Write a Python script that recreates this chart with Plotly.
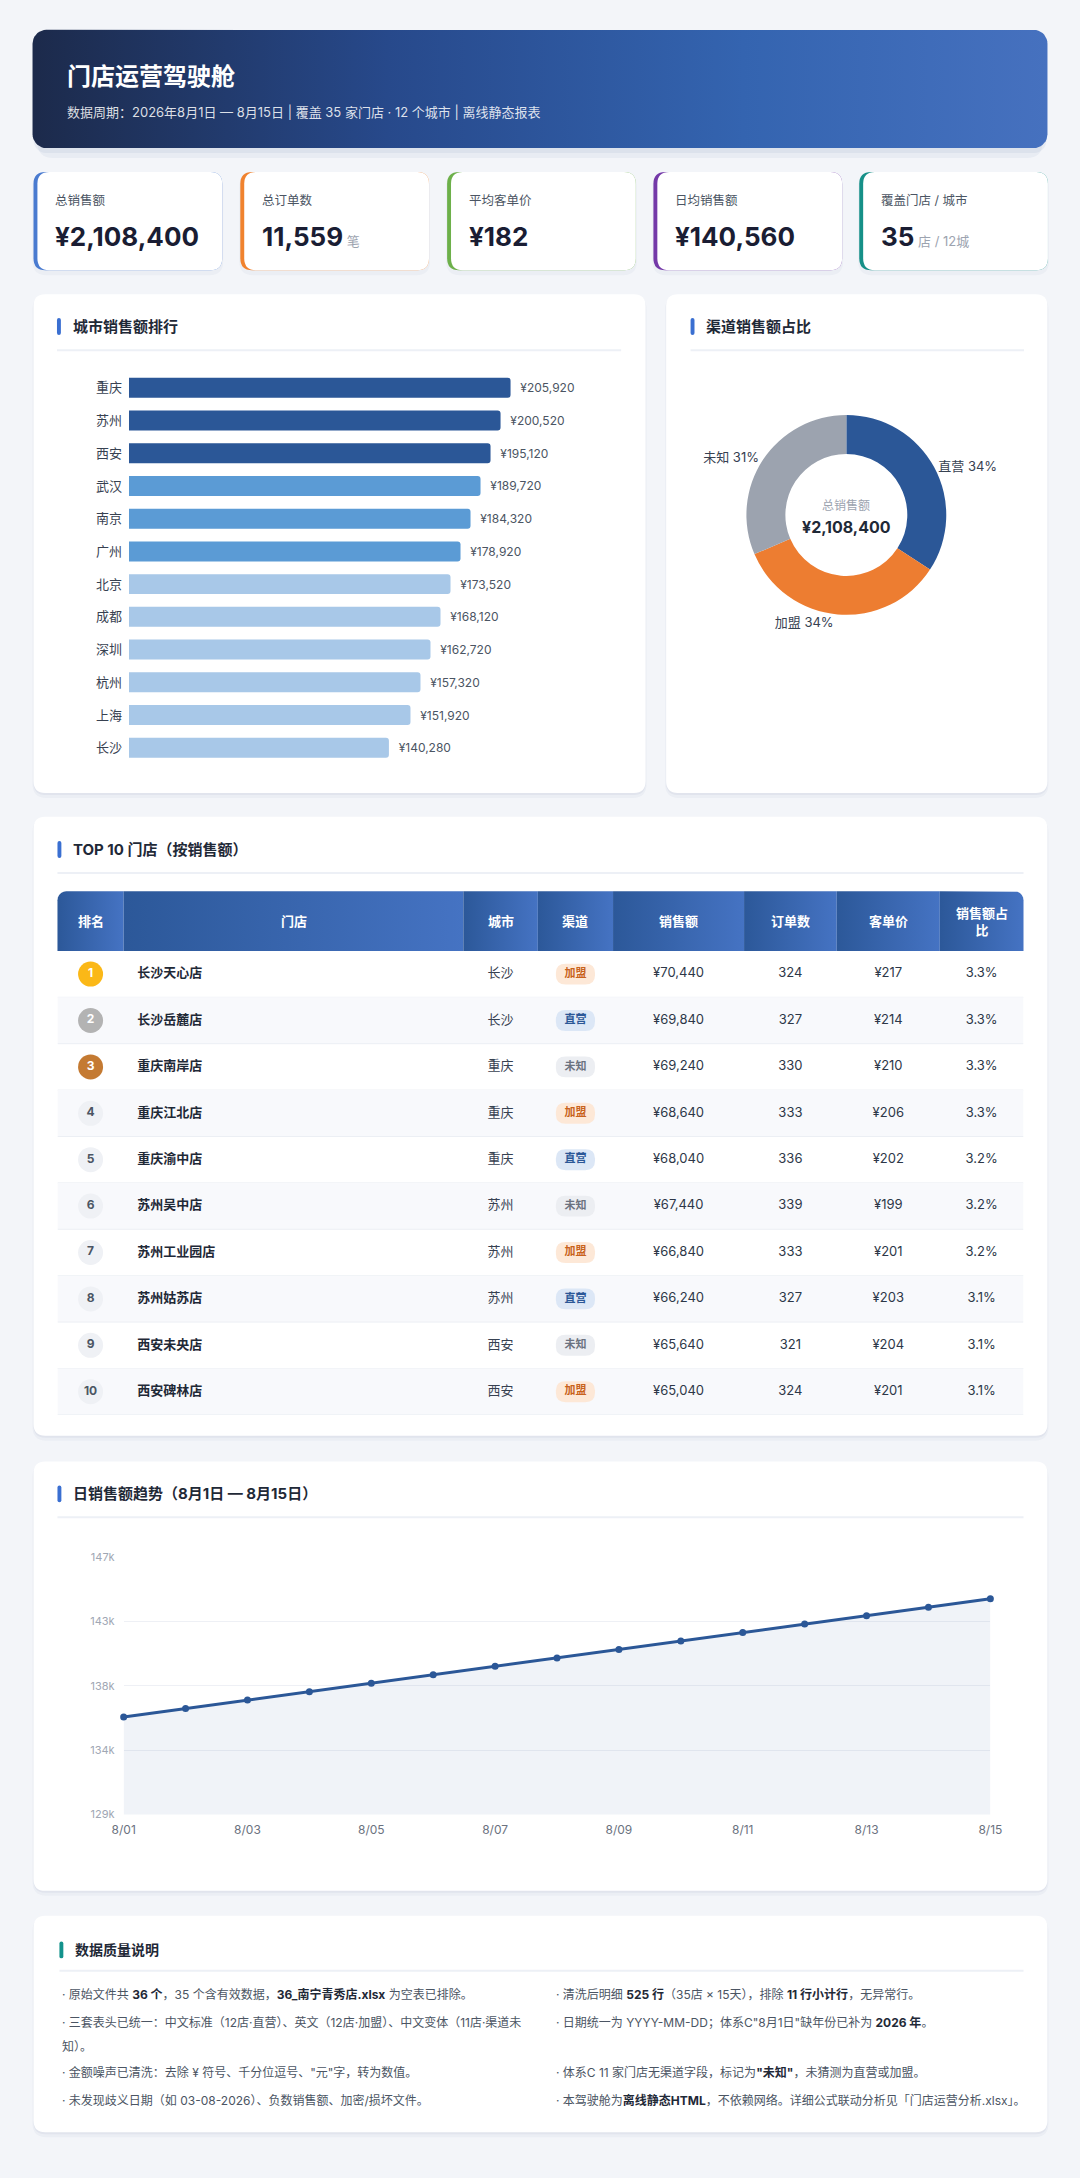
import numpy as np
import plotly.graph_objects as go

W, H = 1080, 2178
FONT = "Inter, 'Noto Sans CJK SC', sans-serif"

# ---------------- data ----------------
kpi_labels = ["总销售额", "总订单数", "平均客单价", "日均销售额", "覆盖门店 / 城市"]
kpi_values = ["¥2,108,400", "11,559", "¥182", "¥140,560", "35"]
kpi_units = ["", "笔", "", "", "店 / 12城"]
kpi_colors = ["#4a7bd0", "#f0822e", "#6db04a", "#7439a8", "#169088"]

cities = ["重庆", "苏州", "西安", "武汉", "南京", "广州", "北京", "成都", "深圳", "杭州", "上海", "长沙"]
city_sales = [205920, 200520, 195120, 189720, 184320, 178920, 173520, 168120, 162720, 157320, 151920, 140280]

channels = ["直营", "加盟", "未知"]
channel_sales = [721200, 724800, 662400]
total_sales = "¥2,108,400"

ranks = [1, 2, 3, 4, 5, 6, 7, 8, 9, 10]
stores = ["长沙天心店", "长沙岳麓店", "重庆南岸店", "重庆江北店", "重庆渝中店",
          "苏州吴中店", "苏州工业园店", "苏州姑苏店", "西安未央店", "西安碑林店"]
store_city = ["长沙", "长沙", "重庆", "重庆", "重庆", "苏州", "苏州", "苏州", "西安", "西安"]
store_channel = ["加盟", "直营", "未知", "加盟", "直营", "未知", "加盟", "直营", "未知", "加盟"]
store_sales = [70440, 69840, 69240, 68640, 68040, 67440, 66840, 66240, 65640, 65040]
store_orders = [324, 327, 330, 333, 336, 339, 333, 327, 321, 324]
store_price = [217, 214, 210, 206, 202, 199, 201, 203, 204, 201]
store_share = [3.3, 3.3, 3.3, 3.3, 3.2, 3.2, 3.2, 3.1, 3.1, 3.1]
table_cols = ["排名", "门店", "城市", "渠道", "销售额", "订单数", "客单价", "销售额占<br>比"]

days = ["8/01", "8/02", "8/03", "8/04", "8/05", "8/06", "8/07", "8/08",
        "8/09", "8/10", "8/11", "8/12", "8/13", "8/14", "8/15"]
daily_sales = [135820, 136410, 137000, 137590, 138180, 138770, 139360, 139950,
               140540, 141130, 141720, 142310, 142900, 143490, 144080]
y_tick_vals = [129000, 133500, 138000, 142500, 147000]
y_tick_text = ["129k", "134k", "138k", "143k", "147k"]

notes_left = [
    ["· 原始文件共 <b>36 个</b>，35 个含有效数据，<b>36_南宁青秀店.xlsx</b> 为空表已排除。"],
    ["· 三套表头已统一：中文标准（12店·直营）、英文（12店·加盟）、中文变体（11店·渠道未", "知）。"],
    ["· 金额噪声已清洗：去除 ¥ 符号、千分位逗号、\"元\"字，转为数值。"],
    ["· 未发现歧义日期（如 03-08-2026）、负数销售额、加密/损坏文件。"],
]
notes_right = [
    ["· 清洗后明细 <b>525 行</b>（35店 × 15天），排除 <b>11 行小计行</b>，无异常行。"],
    ["· 日期统一为 YYYY-MM-DD；体系C\"8月1日\"缺年份已补为 <b>2026 年</b>。"],
    ["· 体系C 11 家门店无渠道字段，标记为<b>\"未知\"</b>，未猜测为直营或加盟。"],
    ["· 本驾驶舱为<b>离线静态HTML</b>，不依赖网络。详细公式联动分析见「门店运营分析.xlsx」。"],
]


# ---------------- helpers (positions in page pixels) ----------------
def X(p):
    return p / W


def Y(p):
    return 1 - p / H


def rr_path(x0, y0, x1, y1, rx, ry=None, tf=None):
    # rounded rect as svg path; tf maps coords to the shape's ref system
    ry = rx if ry is None else ry
    tf = tf or (lambda a, b: (X(a), Y(b)))
    segs = [("M", [(x0 + rx, y0)]), ("L", [(x1 - rx, y0)]), ("Q", [(x1, y0), (x1, y0 + ry)]),
            ("L", [(x1, y1 - ry)]), ("Q", [(x1, y1), (x1 - rx, y1)]), ("L", [(x0 + rx, y1)]),
            ("Q", [(x0, y1), (x0, y1 - ry)]), ("L", [(x0, y0 + ry)]), ("Q", [(x0, y0), (x0 + rx, y0)])]
    out = ""
    for cmd, pts in segs:
        out += cmd + " " + " ".join("%.5f,%.5f" % tf(a, b) for a, b in pts) + " "
    return out + "Z"


def round_poly(x0, y0, x1, y1, rtl, rtr, rbr, rbl, n=10):
    xs, ys = [], []
    for cx, cy, r, a0, a1 in [(x0 + rtl, y0 + rtl, rtl, np.pi, 1.5 * np.pi),
                              (x1 - rtr, y0 + rtr, rtr, 1.5 * np.pi, 2 * np.pi),
                              (x1 - rbr, y1 - rbr, rbr, 0, 0.5 * np.pi),
                              (x0 + rbl, y1 - rbl, rbl, 0.5 * np.pi, np.pi)]:
        t = np.linspace(a0, a1, n)
        xs += list(cx + r * np.cos(t))
        ys += list(cy + r * np.sin(t))
    return xs + [xs[0]], ys + [ys[0]]


shapes = []
annotations = []


def paper_shape(path, color, line=None):
    shapes.append(dict(type="path", path=path, xref="paper", yref="paper", fillcolor=color,
                       line=line or dict(width=0), layer="below"))


def card(x0, y0, x1, y1, r=12):
    paper_shape(rr_path(x0 - 1, y0 + 1, x1 + 1, y1 + 5, r + 2), "rgba(40,60,110,0.035)")
    paper_shape(rr_path(x0, y0 + 1, x1, y1 + 2, r), "rgba(40,60,110,0.05)")
    paper_shape(rr_path(x0, y0, x1, y1, r), "#ffffff")


def ann(x, y, text, size=12, color="#374151", xanchor="left", yanchor="middle"):
    annotations.append(dict(x=X(x), y=Y(y), xref="paper", yref="paper", text=text, showarrow=False,
                            xanchor=xanchor, yanchor=yanchor, borderpad=0,
                            font=dict(size=size, color=color, family=FONT)))


def section_title(x, y, text, x_end, line_y, accent="#3a6fd1", size=15):
    paper_shape(rr_path(x, y - 8.5, x + 4, y + 8.5, 2), accent)
    ann(x + 15, y, "<b>%s</b>" % text, size=size, color="#1f2937")
    shapes.append(dict(type="line", x0=X(x), x1=X(x_end), y0=Y(line_y), y1=Y(line_y), xref="paper",
                       yref="paper", line=dict(color="#edf0f6", width=2), layer="below"))


fig = go.Figure()

# ---------------- header ----------------
paper_shape(rr_path(26, 34, 1054, 152, 16), "rgba(40,70,140,0.05)")
paper_shape(rr_path(22, 28, 1058, 147, 15), "rgba(40,70,140,0.06)")
hx, hy = round_poly(21, 23, 1059, 142, 14, 14, 14, 14)
fig.add_trace(go.Scatter(x=hx, y=hy, mode="lines", fill="toself", line=dict(width=0),
                         fillgradient=dict(type="horizontal",
                                           colorscale=[[0, "#1c2a4b"], [0.35, "#27498b"],
                                                       [0.7, "#3464b0"], [1, "#4671bf"]]),
                         hoverinfo="skip", xaxis="x", yaxis="y"))
ann(55, 70, "<b>门店运营驾驶舱</b>", size=24, color="#ffffff")
ann(55, 106, "数据周期：2026年8月1日 — 8月15日 | 覆盖 35 家门店 · 12 个城市 | 离线静态报表",
    size=13, color="rgba(255,255,255,0.85)")

# ---------------- KPI cards ----------------
kpi_x0 = [22, 233.5, 445, 656, 866.5]
for i, x0 in enumerate(kpi_x0):
    x1 = x0 + 193
    paper_shape(rr_path(x0 - 1, 167, x1 + 1, 270, 14), "rgba(40,60,110,0.035)")
    paper_shape(rr_path(x0, 166, x1, 265, 12), kpi_colors[i])
    paper_shape(rr_path(x0 + 4, 166, x1, 265, 12), "#ffffff")
    ann(x0 + 21, 195, kpi_labels[i], size=12.5, color="#4b5563")
    txt = "<b>%s</b>" % kpi_values[i]
    if kpi_units[i]:
        txt += "<span style='font-size:13px;color:#9ca3af'> %s</span>" % kpi_units[i]
    ann(x0 + 21, 231, txt, size=26, color="#1a1d33")

# ---------------- city bar card ----------------
card(22, 289, 648, 791)
section_title(46, 321.5, "城市销售额排行", 623, 345.5)
bar_colors = ["#2b5797"] * 3 + ["#5b9bd5"] * 3 + ["#a8c8e8"] * 6
fig.add_trace(go.Bar(y=cities, x=city_sales, orientation="h", xaxis="x2", yaxis="y2",
                     marker=dict(color=bar_colors, cornerradius=3, line=dict(width=0)),
                     texttemplate="\u00a0\u00a0¥%{x:,}", textposition="outside",
                     textfont=dict(size=12, color="#4b5563", family=FONT),
                     hoverinfo="skip"))

# ---------------- donut card ----------------
card(669, 289, 1059, 791)
section_title(694, 321.5, "渠道销售额占比", 1035, 345.5)
cx, cy, r = 853.3, 511.2, 102.2
fig.add_trace(go.Pie(labels=channels, values=channel_sales, hole=0.61, sort=False,
                     direction="clockwise", rotation=0,
                     marker=dict(colors=["#2b5797", "#ed7d31", "#9ca3af"], line=dict(width=0)),
                     textposition="outside", texttemplate="%{label} %{percent:.0%}",
                     textfont=dict(size=13, color="#374151", family=FONT),
                     domain=dict(x=[X(cx - r), X(cx + r)], y=[Y(cy + r), Y(cy - r)]),
                     hoverinfo="skip", showlegend=False))
ann(cx, 502, "总销售额", size=12, color="#9ca3af", xanchor="center")
ann(cx, 523, "<b>%s</b>" % total_sales, size=16, color="#1f2937", xanchor="center")

# ---------------- top 10 table ----------------
card(22, 815, 1059, 1438)
section_title(46.5, 848, "TOP 10 门店（按销售额）", 1034.5, 871.5)
col_w = [67.7, 347.4, 76.2, 76.9, 134, 94.8, 105.4, 85.6]
edges = np.concatenate([[0], np.cumsum(col_w)])
centers = (edges[:-1] + edges[1:]) / 2
tx0 = 46.5
for i, name in enumerate(table_cols):
    px_, py_ = round_poly(tx0 + edges[i], 890, tx0 + edges[i + 1], 950,
                          9 if i == 0 else 0, 9 if i == len(table_cols) - 1 else 0, 0, 0, n=6)
    fig.add_trace(go.Scatter(x=px_, y=py_, mode="lines", fill="toself", line=dict(width=0),
                             fillgradient=dict(type="horizontal",
                                               colorscale=[[0, "#2c5899"], [1, "#4573c3"]]),
                             hoverinfo="skip", xaxis="x", yaxis="y"))
    ann(tx0 + centers[i], 920, "<b>%s</b>" % name, size=13, color="#ffffff", xanchor="center")

rows = [k - 1 for k in ranks]
for i in rows:
    if i % 2 == 1:
        shapes.append(dict(type="rect", xref="x4", yref="y4", x0=0, x1=edges[-1], y0=i - 0.5, y1=i + 0.5,
                           fillcolor="#f8f9fc", line=dict(width=0), layer="below"))
    shapes.append(dict(type="line", xref="x4", yref="y4", x0=0, x1=edges[-1], y0=i + 0.5, y1=i + 0.5,
                       line=dict(color="#eceff4", width=1), layer="below"))

pill_style = {"加盟": ("#fde8d7", "#c8621c"), "直营": ("#dce7f6", "#2b5797"), "未知": ("#eceef2", "#6b7280")}
for i, ch in zip(rows, store_channel):
    c = centers[3]
    shapes.append(dict(type="path", xref="x4", yref="y4", layer="below",
                       path=rr_path(c - 20, i - 0.225, c + 20, i + 0.225, 10, 0.2, tf=lambda a, b: (a, b)),
                       fillcolor=pill_style[ch][0], line=dict(width=0)))

badge_fill = ["#fbb817", "#b3b3b3", "#c47a32"] + ["#eff1f5"] * 7
badge_text = ["#ffffff"] * 3 + ["#4b5563"] * 7
fig.add_trace(go.Scatter(x=[centers[0]] * 10, y=rows, mode="markers+text", text=[str(k) for k in ranks],
                         textposition="middle center",
                         marker=dict(size=25, color=badge_fill, line=dict(width=0)),
                         textfont=dict(size=12, color=badge_text, family=FONT, weight="bold"),
                         xaxis="x4", yaxis="y4", cliponaxis=False, hoverinfo="skip"))


def col_text(col, texts, color="#2d3748", size=13, weight="normal", pos="middle center"):
    fig.add_trace(go.Scatter(x=[col] * len(texts), y=rows, mode="text", text=texts,
                             textposition=pos, textfont=dict(size=size, color=color, family=FONT, weight=weight),
                             xaxis="x4", yaxis="y4", cliponaxis=False, hoverinfo="skip"))


col_text(edges[1] + 14, stores, color="#1f2937", weight="bold", pos="middle right")
col_text(centers[2], store_city, color="#374151")
col_text(centers[3], store_channel, color=[pill_style[c][1] for c in store_channel], size=11, weight="bold")
col_text(centers[4], ["¥{:,}".format(v) for v in store_sales])
col_text(centers[5], [str(v) for v in store_orders])
col_text(centers[6], ["¥%d" % v for v in store_price])
col_text(centers[7], ["%.1f%%" % v for v in store_share])

# ---------------- daily trend ----------------
card(22, 1464, 1059, 1896)
section_title(46.5, 1496.5, "日销售额趋势（8月1日 — 8月15日）", 1034.5, 1520)
fig.add_trace(go.Scatter(x=days, y=daily_sales, mode="lines+markers", xaxis="x3", yaxis="y3",
                         line=dict(color="#2b5797", width=3), marker=dict(size=7, color="#2b5797"),
                         fill="tozeroy", fillcolor="rgba(43,87,151,0.07)", cliponaxis=False,
                         hoverinfo="skip"))

# ---------------- data quality notes ----------------
card(22, 1921, 1059, 2139)
section_title(48.5, 1955.5, "数据质量说明", 1034.5, 1976.5, accent="#13928c", size=14)
slot_y = [2000, 2028.3, 2079, 2106.7]
for col_x, notes in [(50, notes_left), (555.5, notes_right)]:
    for sy, lines in zip(slot_y, notes):
        for k, line in enumerate(lines):
            ann(col_x, sy + k * 24.4, line.replace("<b>", "<b style='color:#1f2937'>"), size=12, color="#4b5563")

# ---------------- layout ----------------
hidden = dict(visible=False, showgrid=False, zeroline=False, fixedrange=True)
fig.update_layout(
    width=W, height=H, margin=dict(l=0, r=0, t=0, b=0),
    paper_bgcolor="#f3f5f9", plot_bgcolor="rgba(0,0,0,0)",
    showlegend=False, hovermode=False, font=dict(family=FONT),
    bargap=0.39,
    xaxis=dict(hidden, domain=[0, 1], range=[0, W]),
    yaxis=dict(hidden, domain=[0, 1], range=[H, 0]),
    xaxis2=dict(hidden, domain=[X(119.6), X(623)], range=[0, 265600], anchor="y2"),
    yaxis2=dict(domain=[Y(762), Y(366.8)], anchor="x2", autorange="reversed", showgrid=False,
                zeroline=False, showline=False, ticks="", ticklabelstandoff=6,
                tickfont=dict(size=13, color="#374151", family=FONT)),
    xaxis3=dict(domain=[X(114.2), X(1000.6)], anchor="y3", range=[0, 14], type="category",
                tickvals=days[::2], showgrid=False, zeroline=False, showline=False, ticks="",
                ticklabelstandoff=6, tickfont=dict(size=12, color="#6b7280", family=FONT)),
    yaxis3=dict(domain=[Y(1819.3), Y(1560)], anchor="x3", range=[129000, 147000],
                tickvals=y_tick_vals, ticktext=y_tick_text, showgrid=True, gridcolor="#eef0f5",
                zeroline=False, showline=False, ticks="", ticklabelstandoff=8,
                tickfont=dict(size=11, color="#a0a7b4", family=FONT)),
    xaxis4=dict(hidden, domain=[X(46.5), X(1034.5)], range=[0, edges[-1]], anchor="y4"),
    yaxis4=dict(hidden, domain=[Y(1417), Y(950)], range=[9.5, -0.5], anchor="x4"),
    shapes=shapes, annotations=annotations,
)

fig.write_html("out.html", config={"displayModeBar": False},
               post_script="document.body.style.margin='0';document.body.style.background='#f3f5f9';")
